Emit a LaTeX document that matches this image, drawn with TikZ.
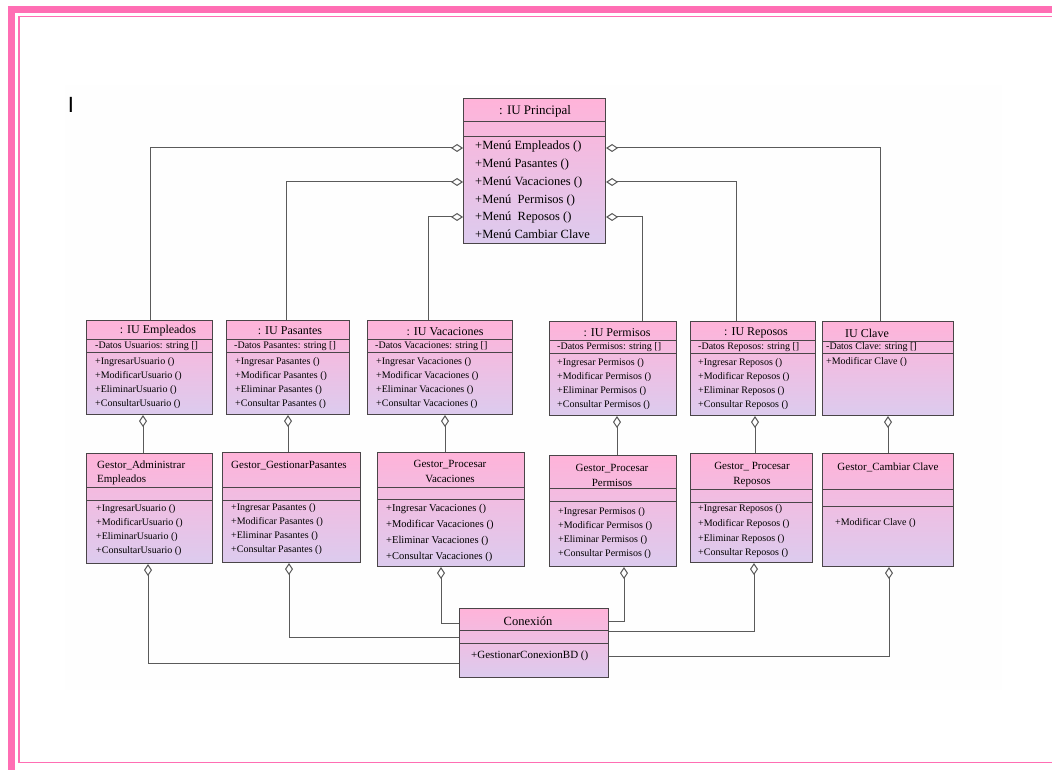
\documentclass[tikz,border=0pt]{standalone}
\usepackage{fontspec}
\setmainfont{Liberation Serif}
\newfontfamily\barfont{Liberation Sans}
\usetikzlibrary{arrows.meta}

\definecolor{framepink}{HTML}{FF6EB4}
\definecolor{clstop}{HTML}{FFB3D9}
\definecolor{clsbot}{HTML}{DCCBEE}
\definecolor{boxline}{HTML}{4A4548}
\definecolor{connc}{HTML}{5A5A5A}
\definecolor{sheet}{HTML}{FEFEFE}

\newcommand\fsz[2]{\fontsize{#1}{#2}\selectfont}

% a class box: name, left, top, right, bottom (pixel units, y downwards)
\newcommand\classbox[5]{%
  \node[clsbox, minimum width={#4-#2}, minimum height={#5-#3}] (#1) at (#2,#3) {};}
% a compartment divider inside a class box at height #2
\newcommand\divider[2]{\draw[divline] (#1.west |- 0,#2) -- (#1.east |- 0,#2);}

\tikzset{
  clsbox/.style={rectangle, draw=boxline, line width=1.1pt, top color=clstop,
    bottom color=clsbot, inner sep=0pt, anchor=north west},
  divline/.style={draw=boxline, line width=1pt},
  conn/.style={draw=connc, line width=1pt},
  agg/.style={conn, {Diamond[open, length=12pt, width=8pt]}-},
  ttl/.style={inner sep=0pt, font=\fsz{12}{14}},
  gttl/.style={inner sep=0pt, font=\fsz{11}{14.5}, align=center},
  attr/.style={inner sep=0pt, anchor=west, font=\fsz{10}{12}},
  ops/.style={inner sep=0pt, anchor=west, align=left, font=\fsz{10}{14}},
}

\begin{document}
\begin{tikzpicture}[x=1pt, y=-1pt]
\useasboundingbox (0,0) rectangle (1052,778);

% page frame
\fill[white] (0,0) rectangle (1052,778);
\fill[framepink] (8,6) rectangle (1052,13);
\fill[framepink] (8,6) rectangle (15,770);
\fill[framepink] (18,16) rectangle (1052,17.5);
\fill[framepink] (18,16) rectangle (19.5,763);
\fill[framepink] (18,761.5) rectangle (1052,763);
\fill[sheet] (65,85) rectangle (1002,690);
\node[inner sep=0pt, font=\barfont\fsz{22}{22}] (cursor) at (71,105) {I};

% main interface
\classbox{prin}{463}{98}{605}{243}
\divider{prin}{122}
\divider{prin}{137}
\node[ttl, font=\fsz{13}{14}] (prin-t) at (535,111) {: IU Principal};
\node[ops, font=\fsz{12.5}{17.8}] (prin-o) at (475,190) {+Menú Empleados ()\\+Menú Pasantes ()\\+Menú Vacaciones ()\\+Menú \ Permisos ()\\+Menú \ Reposos ()\\+Menú Cambiar Clave};

% interface classes
\classbox{iuemp}{86}{320}{212}{414}
\divider{iuemp}{339}\divider{iuemp}{352}
\node[ttl] (iuemp-t) at (158,331) {: IU Empleados};
\node[attr] (iuemp-a) at (95,346) {-Datos Usuarios: string []};
\node[ops] (iuemp-o) at (95,383) {+IngresarUsuario ()\\+ModificarUsuario ()\\+EliminarUsuario ()\\+ConsultarUsuario ()};

\classbox{iupas}{226}{320}{349}{414}
\divider{iupas}{339}\divider{iupas}{352}
\node[ttl] (iupas-t) at (290,331) {: IU Pasantes};
\node[attr] (iupas-a) at (234,346) {-Datos Pasantes: string []};
\node[ops] (iupas-o) at (235,383) {+Ingresar Pasantes ()\\+Modificar Pasantes ()\\+Eliminar Pasantes ()\\+Consultar Pasantes ()};

\classbox{iuvac}{367}{320}{512}{414}
\divider{iuvac}{339}\divider{iuvac}{352}
\node[ttl] (iuvac-t) at (445,332) {: IU Vacaciones};
\node[attr] (iuvac-a) at (375,346) {-Datos Vacaciones: string []};
\node[ops] (iuvac-o) at (376,383) {+Ingresar Vacaciones ()\\+Modificar Vacaciones ()\\+Eliminar Vacaciones ()\\+Consultar Vacaciones ()};

\classbox{iuper}{549}{321}{676}{415}
\divider{iuper}{340}\divider{iuper}{353}
\node[ttl] (iuper-t) at (617,333) {: IU Permisos};
\node[attr] (iuper-a) at (557,347) {-Datos Permisos: string []};
\node[ops] (iuper-o) at (557,384) {+Ingresar Permisos ()\\+Modificar Permisos ()\\+Eliminar Permisos ()\\+Consultar Permisos ()};

\classbox{iurep}{690}{321}{815}{415}
\divider{iurep}{340}\divider{iurep}{353}
\node[ttl] (iurep-t) at (756,333) {: IU Reposos};
\node[attr] (iurep-a) at (698,347) {-Datos Reposos: string []};
\node[ops] (iurep-o) at (698,384) {+Ingresar Reposos ()\\+Modificar Reposos ()\\+Eliminar Reposos ()\\+Consultar Reposos ()};

\classbox{iucla}{822}{321}{953}{415}
\divider{iucla}{341}\divider{iucla}{353}
\node[ttl, anchor=west] (iucla-t) at (845,333) {IU Clave};
\node[attr] (iucla-a) at (826,347) {-Datos Clave: string []};
\node[attr] (iucla-o) at (826,362) {+Modificar Clave ()};

% controller classes
\classbox{gadm}{86}{453}{212}{563}
\divider{gadm}{487}\divider{gadm}{500}
\node[gttl, align=left, anchor=west] (gadm-t) at (97,473) {Gestor\_Administrar\\Empleados};
\node[ops] (gadm-o) at (96,530) {+IngresarUsuario ()\\+ModificarUsuario ()\\+EliminarUsuario ()\\+ConsultarUsuario ()};

\classbox{gpas}{222}{452}{360}{562}
\divider{gpas}{487}\divider{gpas}{500}
\node[gttl, anchor=west] (gpas-t) at (231,466) {Gestor\_GestionarPasantes};
\node[ops] (gpas-o) at (231,529) {+Ingresar Pasantes ()\\+Modificar Pasantes ()\\+Eliminar Pasantes ()\\+Consultar Pasantes ()};

\classbox{gvac}{377}{452}{524}{566}
\divider{gvac}{487}\divider{gvac}{499}
\node[gttl] (gvac-t) at (450,471.5) {Gestor\_Procesar\\Vacaciones};
\node[ops, font=\fsz{10.5}{15.7}] (gvac-o) at (386,533) {+Ingresar Vacaciones ()\\+Modificar Vacaciones ()\\+Eliminar Vacaciones ()\\+Consultar Vacaciones ()};

\classbox{gper}{549}{455}{676}{566}
\divider{gper}{488}\divider{gper}{501}
\node[gttl] (gper-t) at (612,475.5) {Gestor\_Procesar\\Permisos};
\node[ops] (gper-o) at (558,533) {+Ingresar Permisos ()\\+Modificar Permisos ()\\+Eliminar Permisos ()\\+Consultar Permisos ()};

\classbox{grep}{690}{453}{812}{562}
\divider{grep}{489}\divider{grep}{502}
\node[gttl] (grep-t) at (752,474.5) {Gestor\_ Procesar\\Reposos};
\node[ops, font=\fsz{10}{14.7}] (grep-o) at (698,531.5) {+Ingresar Reposos ()\\+Modificar Reposos ()\\+Eliminar Reposos ()\\+Consultar Reposos ()};

\classbox{gcla}{822}{453}{953}{566}
\divider{gcla}{489}\divider{gcla}{506}
\node[gttl] (gcla-t) at (888,467) {Gestor\_Cambiar Clave};
\node[attr] (gcla-o) at (835,523) {+Modificar Clave ()};

% data access class
\classbox{con}{459}{608}{608}{677}
\divider{con}{630}\divider{con}{643}
\node[ttl, font=\fsz{12.5}{14}] (con-t) at (528,621) {Conexión};
\node[attr, font=\fsz{11}{12}] (con-o) at (471,656) {+GestionarConexionBD ()};

% main interface to interface classes
\draw[agg] (prin.west |- 0,148) -| (iuemp.north -| 150,0);
\draw[agg] (prin.west |- 0,182) -| (iupas.north -| 286,0);
\draw[agg] (prin.west |- 0,217) -| (iuvac.north -| 428,0);
\draw[agg] (prin.east |- 0,148) -| (iucla.north -| 880,0);
\draw[agg] (prin.east |- 0,182) -| (iurep.north -| 736,0);
\draw[agg] (prin.east |- 0,217) -| (iuper.north -| 642,0);

% interface classes to controllers
\draw[agg] (iuemp.south -| 143,0) -- (gadm.north -| 143,0);
\draw[agg] (iupas.south -| 288,0) -- (gpas.north -| 288,0);
\draw[agg] (iuvac.south -| 445,0) -- (gvac.north -| 445,0);
\draw[agg] (iuper.south -| 617,0) -- (gper.north -| 617,0);
\draw[agg] (iurep.south -| 755,0) -- (grep.north -| 755,0);
\draw[agg] (iucla.south -| 888,0) -- (gcla.north -| 888,0);

% controllers to the connection class
\draw[agg] (gadm.south -| 148,0) |- (con.west |- 0,663);
\draw[agg] (gpas.south -| 289,0) |- (con.west |- 0,637);
\draw[agg] (gvac.south -| 441,0) |- (con.west |- 0,623);
\draw[agg] (gper.south -| 624,0) |- (con.east |- 0,621);
\draw[agg] (grep.south -| 754,0) |- (con.east |- 0,631);
\draw[agg] (gcla.south -| 889,0) |- (con.east |- 0,656);
\end{tikzpicture}
\end{document}
